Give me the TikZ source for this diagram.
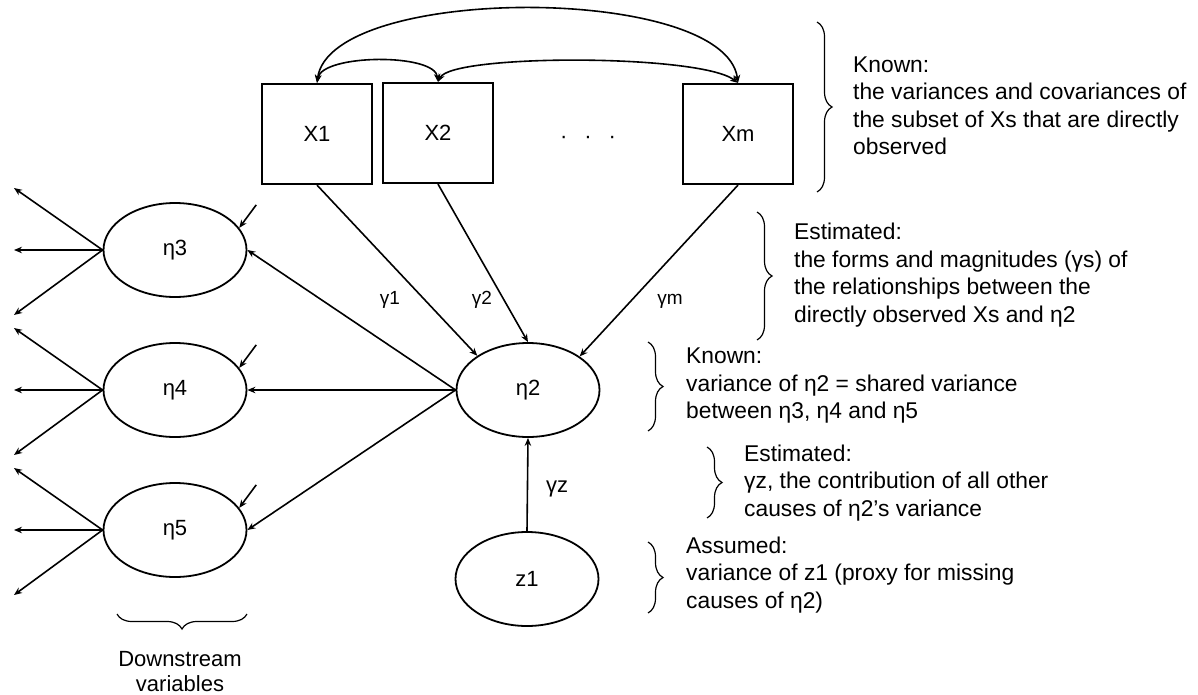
\documentclass[tikz,border=0pt]{standalone}
\usepackage{fontspec}
\setmainfont{Liberation Sans}
\usetikzlibrary{arrows.meta,shapes.geometric,decorations.pathreplacing,calc}
\begin{document}
\begin{tikzpicture}[x=1pt,y=-1pt,
  every node/.style={font=\fontsize{22}{27.5}\selectfont, inner sep=0pt},
  obs/.style={draw, line width=2.2pt, minimum width=110pt, minimum height=100pt},
  latent/.style={draw, ellipse, line width=1.8pt, minimum width=143pt, minimum height=94pt},
  effect/.style={line width=1.6pt, -{Stealth[length=8pt,width=6.5pt]}},
  cov/.style={line width=1.6pt, {Stealth[length=8pt,width=6.5pt]}-{Stealth[length=8pt,width=6.5pt]}},
  coef/.style={font=\fontsize{19}{22}\selectfont, anchor=base},
  brc/.style={line width=1.2pt, decorate, decoration={brace, amplitude=15pt}},
  note/.style={anchor=west, align=left, font=\fontsize{22.8}{27.5}\selectfont}]
\useasboundingbox (0,0) rectangle (1198,695);

% observed predictors
\node[obs] (X1) at (317,134) {X1};
\node[obs] (X2) at (438,133) {X2};
\node[obs] (Xm) at (738,134) {Xm};
\node[anchor=base] (dots) at (588,144) {·\hspace{17pt}·\hspace{17pt}·};

% covariances among the Xs
\draw[cov] (X1.north) .. controls ($(X1.north)+(5,-29)$) and ($(X2.north)+(-3,-29)$) .. (X2.north);
\draw[cov] (X2.north) .. controls ($(X2.north)+(14,-28)$) and ($(Xm.north)+(-38,-29)$) .. (Xm.north);
\draw[cov] (X1.north) .. controls ($(X1.north)+(13,-99)$) and ($(Xm.north)+(-13,-99)$) .. (Xm.north);

% latent variables
\node[latent] (eta2) at (528,390) {η2};
\node[latent] (z1) at (527,579) {z1};
\node[latent] (eta3) at (175,250) {η3};
\node[latent] (eta4) at (175,390) {η4};
\node[latent] (eta5) at (175,530) {η5};

% paths into eta2
\draw[effect] (X1.south) -- (eta2.146);
\draw[effect] (X2.south) -- (eta2.north);
\draw[effect] (Xm.south) -- (eta2.33);
\draw[effect] (z1.north) -- (eta2.south);
\node[coef] (g1) at (390,304) {γ1};
\node[coef] (g2) at (482,304) {γ2};
\node[coef] (gm) at (670,304) {γm};
\node[anchor=base] (gz) at (557,492) {γz};

% downstream variables
\foreach \e/\y in {eta3/250, eta4/390, eta5/530} {
  \draw[effect] (eta2.west) -- (\e.east);
  \coordinate (\e-a) at (14,\y-62);
  \coordinate (\e-b) at (14,\y);
  \coordinate (\e-c) at (14,\y+65);
  \coordinate (\e-err) at ($(\e.19)+(17,-23)$);
  \draw[effect] (\e.west) -- (\e-a);
  \draw[effect] (\e.west) -- (\e-b);
  \draw[effect] (\e.west) -- (\e-c);
  \draw[effect] (\e-err) -- (\e.19);
}

% annotations
\draw[brc] (817,22) -- (817,192);
\node[note] (n1) at (853,106) {Known:\\the variances and covariances of\\the subset of Xs that are directly\\observed};
\draw[brc] (757,212) -- (757,340);
\node[note] (n2) at (794,275) {Estimated:\\the forms and magnitudes (γs) of\\the relationships between the\\directly observed Xs and η2};
\draw[brc] (648,342) -- (648,431);
\node[note] (n3) at (686,386) {Known:\\variance of η2 = shared variance\\between η3, η4 and η5};
\draw[brc] (707,447) -- (707,518);
\node[note] (n4) at (744,483) {Estimated:\\γz, the contribution of all other\\causes of η2’s variance};
\draw[brc] (648,542) -- (648,613);
\node[note] (n5) at (686,575) {Assumed:\\variance of z1 (proxy for missing\\causes of η2)};
\draw[brc] (247,614) -- (117,614);
\node[align=center, font=\fontsize{22}{25}\selectfont] (ds) at (180,672) {Downstream\\variables};
\end{tikzpicture}
\end{document}
